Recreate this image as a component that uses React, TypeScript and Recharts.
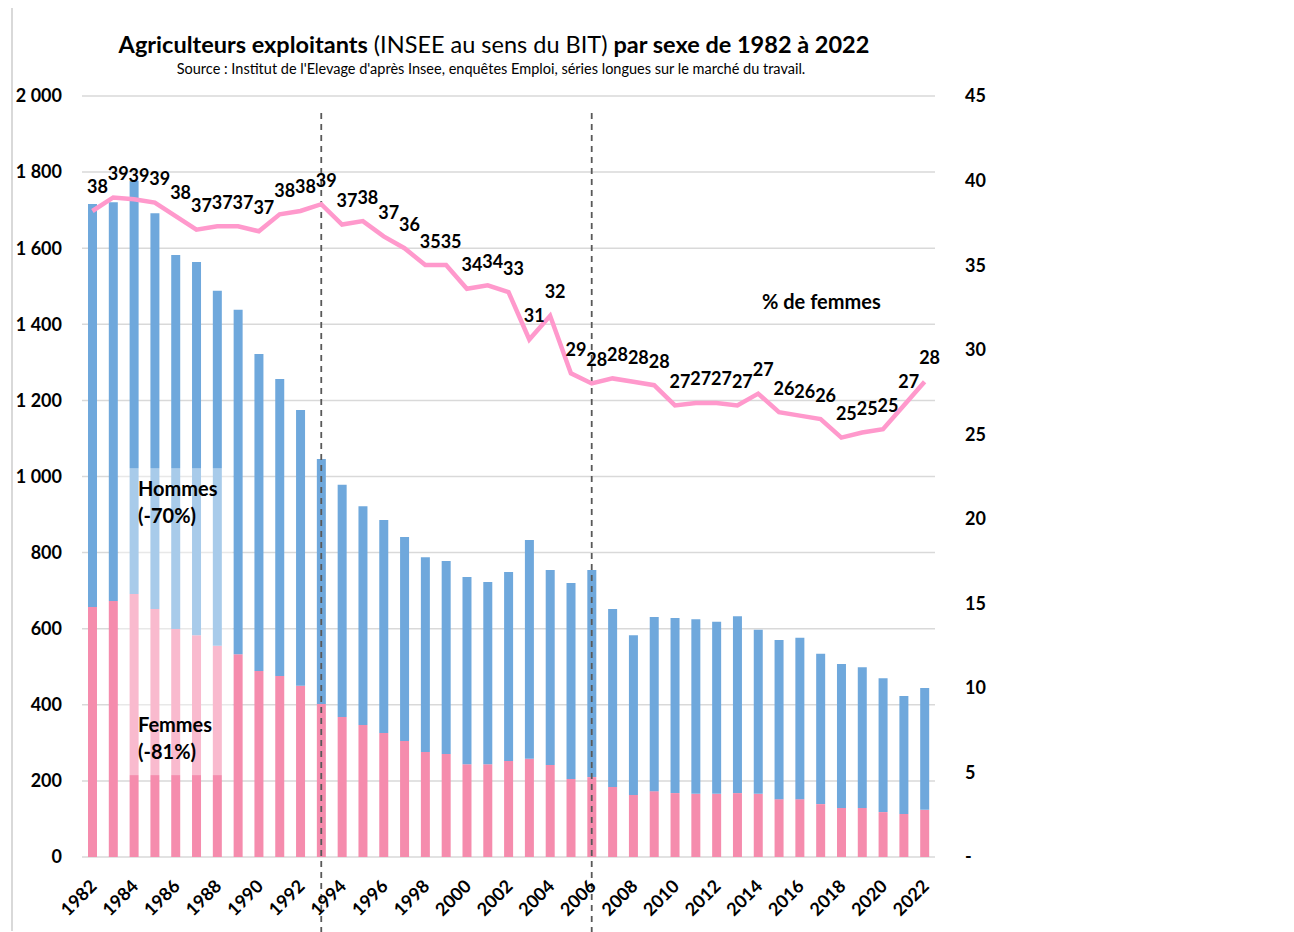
import React from "react";
import {
  ComposedChart,
  Bar,
  Line,
  XAxis,
  YAxis,
  CartesianGrid,
  ReferenceLine,
  ReferenceArea,
  LabelList,
} from "recharts";

const years = [
  "1982", "1983", "1984", "1985", "1986", "1987", "1988", "1989", "1990", "1991",
  "1992", "1993", "1994", "1995", "1996", "1997", "1998", "1999", "2000", "2001",
  "2002", "2003", "2004", "2005", "2006", "2007", "2008", "2009", "2010", "2011",
  "2012", "2013", "2014", "2015", "2016", "2017", "2018", "2019", "2020", "2021",
  "2022",
];

// Femmes (milliers)
const femmes = [
  657, 673, 691, 652, 599, 583, 555, 533, 489, 476,
  450, 402, 368, 347, 326, 305, 276, 271, 244, 244,
  252, 258, 242, 205, 210, 184, 163, 173, 168, 166,
  166, 168, 166, 152, 152, 139, 129, 129, 118, 113,
  124,
];

// Hommes (milliers)
const hommes = [
  1059, 1048, 1086, 1040, 983, 981, 933, 905, 833, 780,
  725, 644, 610, 575, 560, 536, 512, 507, 492, 479,
  497, 575, 512, 515, 544, 468, 420, 458, 460, 459,
  452, 465, 431, 418, 424, 395, 378, 370, 352, 310,
  320,
];

// % de femmes
const pctFemmes = [
  38.2, 39.0, 38.9, 38.7, 37.9, 37.1, 37.3, 37.3, 37.0, 38.0,
  38.2, 38.6, 37.4, 37.6, 36.7, 36.0, 35.0, 35.0, 33.6, 33.8,
  33.4, 30.6, 32.0, 28.6, 28.0, 28.3, 28.1, 27.9, 26.7, 26.85,
  26.85, 26.7, 27.4, 26.3, 26.1, 25.9, 24.8, 25.1, 25.3, 26.7,
  28.1,
];

const leftTicks = [0, 200, 400, 600, 800, 1000, 1200, 1400, 1600, 1800, 2000];
const rightTicks = [0, 5, 10, 15, 20, 25, 30, 35, 40, 45];

const data = years.map((y, i) => ({
  year: y,
  femmes: femmes[i],
  hommes: hommes[i],
  pct: pctFemmes[i],
}));

const FONT = "Lato, 'Open Sans', sans-serif";
const BLUE = "#6fa8dc";
const PINK = "#f58cad";
const LINE = "#ff99cc";

const fmtLeft = (v: number) => {
  if (v >= 1000) {
    const th = Math.floor(v / 1000);
    const rest = String(v % 1000).padStart(3, "0");
    return `${th} ${rest}`;
  }
  return String(v);
};

const XTick = (props: any) => {
  const { x, y, payload } = props;
  const ax = x + 1;
  const ay = y + 26;
  return (
    <text
      x={ax}
      y={ay}
      transform={`rotate(-45, ${ax}, ${ay})`}
      textAnchor="end"
      dy="0.35em"
      fontFamily={FONT}
      fontWeight={700}
      fontSize={18}
      fill="#000"
    >
      {payload.value}
    </text>
  );
};

const PctLabel = (props: any) => {
  const { x, y, value } = props;
  if (x == null || y == null) return null;
  return (
    <text
      x={x + 5}
      y={y - 17.5}
      textAnchor="middle"
      fontFamily={FONT}
      fontWeight={700}
      fontSize={18}
      fill="#000"
    >
      {Math.round(value)}
    </text>
  );
};

const DashedShape = (props: any) => {
  const { x1, y1, x2, y2 } = props;
  return (
    <line
      x1={x1}
      x2={x2}
      y1={Math.min(y1, y2) + 17}
      y2={Math.max(y1, y2) + 75}
      stroke="#595959"
      strokeWidth={1.8}
      strokeDasharray="6 5"
    />
  );
};

const OverlayShape = (props: any) => {
  const { x, y, width, height } = props;
  if (x == null || width == null) return null;
  return (
    <rect
      x={x - 5}
      y={y}
      width={width + 10}
      height={height}
      fill="#ffffff"
      fillOpacity={0.4}
    />
  );
};

export default function App() {
  return (
    <div style={{ position: "relative", width: 1286, height: 924, fontFamily: FONT }}>
      <div
        style={{
          position: "absolute",
          left: 3,
          top: -3,
          width: 1282,
          height: 926,
          borderLeft: "2px solid #d9d9d9",
          borderTop: "2px solid #d9d9d9",
          boxSizing: "border-box",
        }}
      />
      <div
        style={{
          position: "absolute",
          left: 0,
          top: 22,
          width: 972,
          textAlign: "center",
          fontSize: 23.5,
          lineHeight: "28px",
          color: "#000",
          whiteSpace: "nowrap",
        }}
      >
        <b>Agriculteurs exploitants</b> (INSEE au sens du BIT) <b>par sexe de 1982 à 2022</b>
      </div>
      <div
        style={{
          position: "absolute",
          left: 0,
          top: 52,
          width: 966,
          textAlign: "center",
          fontSize: 14.5,
          lineHeight: "18px",
          color: "#000",
          whiteSpace: "nowrap",
        }}
      >
        Source : Institut de l'Elevage d'après Insee, enquêtes Emploi, séries longues sur le marché du travail.
      </div>
      <ComposedChart
        width={1286}
        height={924}
        data={data}
        margin={{ top: 88, right: 299, bottom: 5, left: 0 }}
        barSize={9}
      >
        <CartesianGrid
          yAxisId="left"
          vertical={false}
          stroke="#d9d9d9"
          strokeWidth={1.5}
        />
        <XAxis
          dataKey="year"
          interval={1}
          tickLine={false}
          axisLine={false}
          tickSize={0}
          tickMargin={0}
          height={70}
          tick={<XTick />}
        />
        <YAxis
          yAxisId="left"
          orientation="left"
          domain={[0, 2000]}
          ticks={leftTicks}
          width={74}
          tickLine={false}
          axisLine={false}
          tickSize={0}
          tickMargin={20}
          tickFormatter={fmtLeft}
          tick={{ fontFamily: FONT, fontWeight: 700, fontSize: 18, fill: "#000" }}
        />
        <YAxis
          yAxisId="right"
          orientation="right"
          domain={[0, 45]}
          ticks={rightTicks}
          width={60}
          tickLine={false}
          axisLine={false}
          tickSize={0}
          tickMargin={30}
          tickFormatter={(v: number) => (v === 0 ? "-" : String(v))}
          tick={{ fontFamily: FONT, fontWeight: 700, fontSize: 18, fill: "#000", textAnchor: "start" }}
        />
        <Bar yAxisId="left" dataKey="femmes" stackId="a" fill={PINK} isAnimationActive={false} />
        <Bar yAxisId="left" dataKey="hommes" stackId="a" fill={BLUE} isAnimationActive={false} />
        <ReferenceArea
          yAxisId="left"
          x1="1984"
          x2="1988"
          y1={215}
          y2={1022}
          ifOverflow="visible"
          zIndex={350}
          shape={(p: any) => <OverlayShape {...p} />}
        />
        <ReferenceLine yAxisId="left" x="1993" shape={<DashedShape />} />
        <ReferenceLine yAxisId="left" x="2006" shape={<DashedShape />} />
        <Line
          yAxisId="right"
          dataKey="pct"
          stroke={LINE}
          strokeWidth={4.5}
          dot={false}
          isAnimationActive={false}
        >
          <LabelList dataKey="pct" content={<PctLabel />} />
        </Line>
      </ComposedChart>
      <div
        style={{
          position: "absolute",
          left: 130,
          top: 467,
          fontSize: 20,
          fontWeight: 700,
          lineHeight: "27px",
          color: "#000",
          whiteSpace: "nowrap",
        }}
      >
        Hommes
        <br />
        (-70%)
      </div>
      <div
        style={{
          position: "absolute",
          left: 130,
          top: 703,
          fontSize: 20,
          fontWeight: 700,
          lineHeight: "27px",
          color: "#000",
          whiteSpace: "nowrap",
        }}
      >
        Femmes
        <br />
        (-81%)
      </div>
      <div
        style={{
          position: "absolute",
          left: 754,
          top: 282,
          fontSize: 20,
          fontWeight: 700,
          lineHeight: "22px",
          color: "#000",
          whiteSpace: "nowrap",
        }}
      >
        % de femmes
      </div>
    </div>
  );
}
